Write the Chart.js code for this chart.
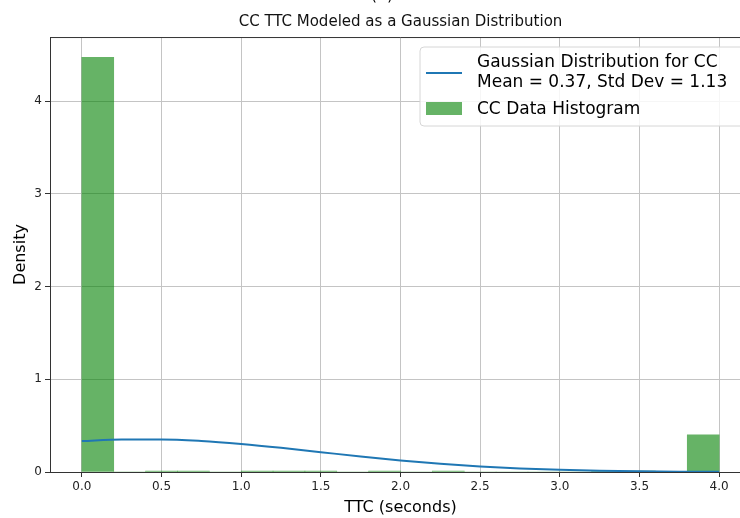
<!DOCTYPE html>
<html>
<head>
<meta charset="utf-8">
<title>CC TTC Gaussian</title>
<script src="https://cdn.jsdelivr.net/npm/chart.js@4.4.1/dist/chart.umd.min.js"></script>
<style>
  html, body { margin: 0; padding: 0; background: #fff; overflow: hidden; }
  #wrap { width: 740px; height: 518px; overflow: hidden; }
  #ttcChart { display: block; }
</style>
</head>
<body>
<div id="wrap"><canvas id="ttcChart" width="760" height="518"></canvas></div>
<script>
// histogram bins (width 0.2 s), density per bin
const binCenters = [0.1, 0.3, 0.5, 0.7, 0.9, 1.1, 1.3, 1.5, 1.7, 1.9,
                    2.1, 2.3, 2.5, 2.7, 2.9, 3.1, 3.3, 3.5, 3.7, 3.9];
const histDensity = [4.47, 0, 0.01, 0.01, 0, 0.01, 0.01, 0.01, 0, 0.01,
                     0, 0.01, 0, 0, 0, 0, 0.01, 0.01, 0, 0.40];

// fitted gaussian curve
const curveX = [0, 0.25, 0.5, 0.75, 1.0, 1.25, 1.5, 1.75, 2.0,
                2.25, 2.5, 2.75, 3.0, 3.25, 3.5, 3.75, 4.0];
const curveDensity = [0.334, 0.351, 0.351, 0.334, 0.302, 0.261, 0.214, 0.167, 0.125,
                      0.089, 0.060, 0.038, 0.024, 0.014, 0.008, 0.004, 0.002];

const xTicks = [0, 0.5, 1.0, 1.5, 2.0, 2.5, 3.0, 3.5, 4.0];
const yTicks = [0, 1, 2, 3, 4];

const gaussLabel = ['Gaussian Distribution for CC', 'Mean = 0.37, Std Dev = 1.13'];
const histLabel = 'CC Data Histogram';

const FONT = "'DejaVu Sans', sans-serif";

// draws the top spine, the "(a)" caption and the in-plot legend
const framePlugin = {
  id: 'frame',
  afterDraw(chart) {
    const ctx = chart.ctx;
    const area = chart.chartArea;
    ctx.save();
    ctx.strokeStyle = '#333';
    ctx.lineWidth = 1;
    ctx.beginPath();
    ctx.moveTo(area.left, area.top + 0.5);
    ctx.lineTo(area.right, area.top + 0.5);
    ctx.stroke();

    // caption cut off at the top
    ctx.fillStyle = '#000';
    ctx.font = "16px " + FONT;
    ctx.textAlign = 'center';
    ctx.textBaseline = 'alphabetic';
    ctx.fillText('(a)', 382, 0);

    // legend box
    const bx = 420, by = 47, bw = 340, bh = 79, r = 4;
    ctx.beginPath();
    ctx.moveTo(bx + r, by);
    ctx.lineTo(bx + bw - r, by);
    ctx.quadraticCurveTo(bx + bw, by, bx + bw, by + r);
    ctx.lineTo(bx + bw, by + bh - r);
    ctx.quadraticCurveTo(bx + bw, by + bh, bx + bw - r, by + bh);
    ctx.lineTo(bx + r, by + bh);
    ctx.quadraticCurveTo(bx, by + bh, bx, by + bh - r);
    ctx.lineTo(bx, by + r);
    ctx.quadraticCurveTo(bx, by, bx + r, by);
    ctx.closePath();
    ctx.fillStyle = 'rgba(255,255,255,0.85)';
    ctx.fill();
    ctx.strokeStyle = '#d6d6d6';
    ctx.stroke();

    const lineDs = chart.data.datasets[0];
    const barDs = chart.data.datasets[1];

    ctx.strokeStyle = lineDs.borderColor;
    ctx.lineWidth = 2;
    ctx.beginPath();
    ctx.moveTo(426, 73);
    ctx.lineTo(462, 73);
    ctx.stroke();

    ctx.fillStyle = barDs.backgroundColor;
    ctx.fillRect(426, 102, 36, 13);

    ctx.fillStyle = '#000';
    ctx.font = "17px " + FONT;
    ctx.textAlign = 'left';
    ctx.fillText(lineDs.label[0], 477, 67);
    ctx.fillText(lineDs.label[1], 477, 87);
    ctx.fillText(barDs.label, 477, 114);
    ctx.restore();
  }
};

const ctx = document.getElementById('ttcChart').getContext('2d');

const chart = new Chart(ctx, {
  type: 'bar',
  data: {
    datasets: [{
      type: 'line',
      label: gaussLabel,
      data: curveX.map((x, i) => ({ x: x, y: curveDensity[i] })),
      borderColor: '#1f77b4',
      borderWidth: 2,
      pointRadius: 0,
      cubicInterpolationMode: 'monotone',
      fill: false,
      order: 0
    }, {
      type: 'bar',
      label: histLabel,
      data: binCenters.map((x, i) => ({ x: x, y: histDensity[i] })),
      backgroundColor: 'rgba(0,128,0,0.6)',
      borderWidth: 0,
      barPercentage: 1.0,
      categoryPercentage: 1.0,
      grouped: false,
      order: 1
    }]
  },
  options: {
    responsive: false,
    animation: false,
    layout: { padding: { top: 0, right: 9, bottom: 0, left: 0 } },
    plugins: {
      legend: { display: false },
      tooltip: { enabled: false },
      title: {
        display: true,
        text: 'CC TTC Modeled as a Gaussian Distribution',
        fullSize: false,
        color: '#111',
        font: { family: "'DejaVu Sans Condensed', 'DejaVu Sans', sans-serif", size: 16.7, weight: 'normal' },
        padding: { top: 12, bottom: 5 }
      }
    },
    scales: {
      x: {
        type: 'linear',
        min: -0.2,
        max: 4.2,
        offset: false,
        afterBuildTicks: (scale) => { scale.ticks = xTicks.map(v => ({ value: v })); },
        afterFit: (scale) => { scale.height = 46; },
        ticks: {
          color: '#222',
          padding: 3,
          font: { family: FONT, size: 12 },
          callback: (v) => Number(v).toFixed(1)
        },
        grid: { color: '#c4c4c4', lineWidth: 1, offset: false, tickLength: 5, tickColor: '#333' },
        border: { color: '#333', width: 1 },
        title: {
          display: true,
          text: 'TTC (seconds)',
          color: '#000',
          font: { family: FONT, size: 16 },
          padding: { top: 0, bottom: 1 }
        }
      },
      y: {
        min: 0,
        max: 4.69,
        afterBuildTicks: (scale) => { scale.ticks = yTicks.map(v => ({ value: v })); },
        afterFit: (scale) => { scale.width = 50; },
        ticks: {
          color: '#222',
          padding: 3,
          font: { family: FONT, size: 12 },
          callback: (v) => String(v)
        },
        grid: { color: '#c4c4c4', lineWidth: 1, tickLength: 5, tickColor: '#333' },
        border: { color: '#333', width: 1 },
        title: {
          display: true,
          text: 'Density',
          color: '#000',
          font: { family: FONT, size: 16 },
          padding: { top: 11, bottom: 0 }
        }
      }
    }
  },
  plugins: [framePlugin]
});
</script>
</body>
</html>
